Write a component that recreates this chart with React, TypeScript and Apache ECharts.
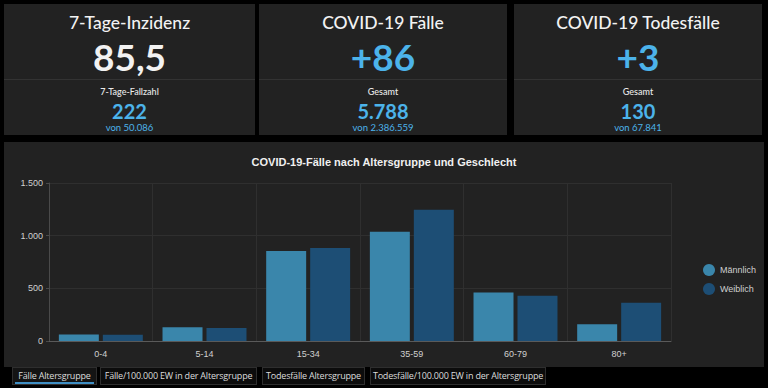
import React, { useEffect, useRef } from "react";
import * as echarts from "echarts";

const categories = ["0-4", "5-14", "15-34", "35-59", "60-79", "80+"];
const maleValues = [62, 130, 855, 1038, 460, 158];
const femaleValues = [60, 124, 884, 1246, 430, 362];
const seriesNames = ["Männlich", "Weiblich"];
const yTicks = [0, 500, 1000, 1500];

const cards = [
  { title: "7-Tage-Inzidenz", big: "85,5", bigBlue: false, sub: "7-Tage-Fallzahl", num: "222", von: "von 50.086", left: 4, width: 251 },
  { title: "COVID-19 Fälle", big: "+86", bigBlue: true, sub: "Gesamt", num: "5.788", von: "von 2.386.559", left: 259, width: 248 },
  { title: "COVID-19 Todesfälle", big: "+3", bigBlue: true, sub: "Gesamt", num: "130", von: "von 67.841", left: 514, width: 248 },
];

const tabs = [
  { label: "Fälle Altersgruppe", left: 12, width: 85, active: true },
  { label: "Fälle/100.000 EW in der Altersgruppe", left: 100, width: 157, active: false },
  { label: "Todesfälle Altersgruppe", left: 262, width: 103, active: false },
  { label: "Todesfälle/100.000 EW in der Altersgruppe", left: 370, width: 176, active: false },
];

const BLUE = "#4cb3ea";
const CARD_FONT = "Lato, 'Noto Sans', sans-serif";
const CHART_FONT = "'Liberation Sans', Arial, sans-serif";

function fmt(v: number) {
  return v >= 1000 ? Math.floor(v / 1000) + "." + String(v % 1000).padStart(3, "0") : String(v);
}

function Chart() {
  const ref = useRef<HTMLDivElement>(null);
  useEffect(() => {
    if (!ref.current) return;
    const chart = echarts.init(ref.current, undefined, { renderer: "svg" });
    chart.setOption({
      animation: false,
      backgroundColor: "transparent",
      title: {
        text: "COVID-19-Fälle nach Altersgruppe und Geschlecht",
        left: "center",
        top: 9,
        textStyle: { color: "#f0f0f0", fontSize: 11, fontWeight: "bold", fontFamily: CHART_FONT },
      },
      legend: {
        data: seriesNames,
        orient: "vertical",
        left: 694,
        top: 117,
        icon: "circle",
        itemWidth: 12,
        itemHeight: 12,
        itemGap: 7,
        textStyle: { color: "#d0d0d0", fontSize: 9, fontFamily: CHART_FONT },
      },
      grid: { left: 45, right: 93, top: 41, bottom: 26 },
      xAxis: {
        type: "category",
        data: categories,
        axisLine: { lineStyle: { color: "#5a5a5a" } },
        axisTick: { alignWithLabel: true, length: 4, lineStyle: { color: "#5a5a5a" } },
        axisLabel: { color: "#d0d0d0", fontSize: 9, margin: 8, fontFamily: CHART_FONT },
        splitLine: { show: true, lineStyle: { color: "#2f2f2f" } },
      },
      yAxis: {
        type: "value",
        min: yTicks[0],
        max: yTicks[yTicks.length - 1],
        interval: 500,
        axisLine: { show: true, lineStyle: { color: "#4a4a4a" } },
        axisTick: { show: true, length: 3, lineStyle: { color: "#4a4a4a" } },
        axisLabel: { color: "#d0d0d0", fontSize: 9, margin: 6, formatter: (v: number) => fmt(v), fontFamily: CHART_FONT },
        splitLine: { show: true, lineStyle: { color: "#2f2f2f" } },
      },
      series: [
        { name: seriesNames[0], type: "bar", data: maleValues, itemStyle: { color: "#3a86ab" }, barGap: "10%", barCategoryGap: "19%" },
        { name: seriesNames[1], type: "bar", data: femaleValues, itemStyle: { color: "#1d4e75" }, barGap: "10%", barCategoryGap: "19%" },
      ],
    });
    return () => chart.dispose();
  }, []);
  return <div ref={ref} style={{ position: "absolute", left: 4, top: 142, width: 760, height: 225, background: "#222222" }} />;
}

export default function App() {
  return (
    <div style={{ position: "fixed", left: 0, top: 0, width: 768, height: 388, background: "#000", overflow: "hidden", fontFamily: CARD_FONT }}>
      {cards.map((c) => (
        <div key={c.title} style={{ position: "absolute", left: c.left, top: 4, width: c.width, height: 131, background: "#222222" }}>
          <div style={{ position: "absolute", left: 0, right: 0, top: 8, textAlign: "center", color: "#f2f2f2", fontSize: 17.5, lineHeight: "22px", fontWeight: 500 }}>{c.title}</div>
          <div style={{ position: "absolute", left: 0, right: 0, top: 32, textAlign: "center", color: c.bigBlue ? BLUE : "#f2f2f2", fontSize: 37, lineHeight: "42px", fontWeight: 700 }}>{c.big}</div>
          <div style={{ position: "absolute", left: 0, right: 0, top: 75, height: 1, background: "#333" }} />
          <div style={{ position: "absolute", left: 0, right: 0, top: 82, textAlign: "center", color: "#eaeaea", fontSize: 9, lineHeight: "12px", fontWeight: 500 }}>{c.sub}</div>
          <div style={{ position: "absolute", left: 0, right: 0, top: 96, textAlign: "center", color: BLUE, fontSize: 20, lineHeight: "22px", fontWeight: 700 }}>{c.num}</div>
          <div style={{ position: "absolute", left: 0, right: 0, top: 118, textAlign: "center", color: BLUE, fontSize: 9.5, lineHeight: "12px" }}>{c.von}</div>
        </div>
      ))}
      <Chart />
      {tabs.map((t) => (
        <div key={t.label} style={{ position: "absolute", left: t.left, top: 367, width: t.width, height: 18, boxSizing: "border-box", border: "1px solid #2e2e2e", background: t.active ? "#141414" : "#0c0c0c", color: "#dcdcdc", fontSize: 9, lineHeight: "16px", textAlign: "center", whiteSpace: "nowrap", fontFamily: "'Open Sans', sans-serif", letterSpacing: -0.2 }}>
          {t.label}
          {t.active && <div style={{ position: "absolute", left: 2, right: 2, bottom: 0, height: 2, background: "#3f8fc4" }} />}
        </div>
      ))}
    </div>
  );
}
